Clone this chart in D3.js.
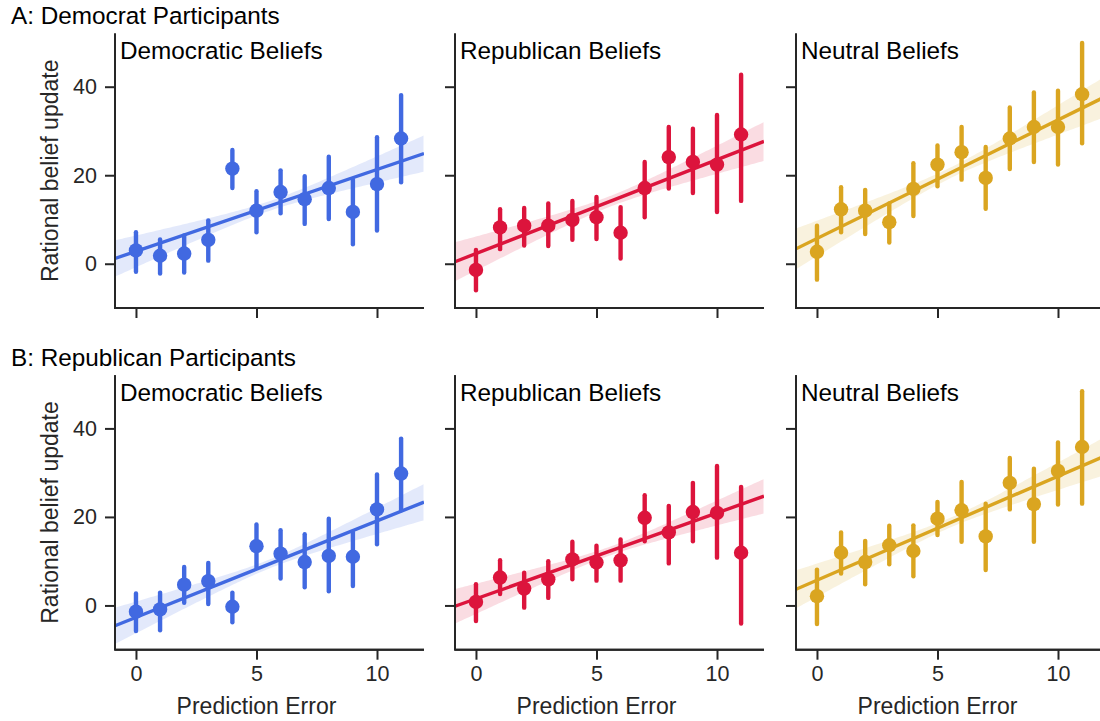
<!DOCTYPE html>
<html>
<head>
<meta charset="utf-8">
<script src="https://cdn.jsdelivr.net/npm/d3@7"></script>
<style>
  html, body { margin: 0; padding: 0; background: #fff; }
  svg { display: block; font-family: "Liberation Sans", Arial, Helvetica, sans-serif; }
</style>
</head>
<body>
<svg id="chart" width="1100" height="721"></svg>
<script>
// ---------- Data ----------
const predictionError = [0, 1, 2, 3, 4, 5, 6, 7, 8, 9, 10, 11];
const rowTitles = ["A: Democrat Participants", "B: Republican Participants"];
const panelTitles = ["Democratic Beliefs", "Republican Beliefs", "Neutral Beliefs"];
const colors = ["#4169E1", "#DC143C", "#DAA520"];
const xTicks = [0, 5, 10];
const yTicks = [0, 20, 40];
const xLabel = "Prediction Error";
const yLabel = "Rational belief update";

// Row A (Democrat participants)
const demDemMean = [3.0, 1.8, 2.3, 5.4, 21.5, 12.0, 16.2, 14.6, 17.1, 11.7, 18.0, 28.3];
const demDemLow  = [-1.8, -2.2, -2.0, 0.7, 17.1, 7.1, 11.4, 9.0, 10.1, 4.4, 7.5, 18.4];
const demDemHigh = [7.1, 5.5, 6.4, 9.8, 25.7, 16.4, 21.1, 19.8, 24.2, 19.0, 28.6, 38.1];

const demRepMean = [-1.4, 8.2, 8.6, 8.6, 9.9, 10.5, 7.0, 17.1, 24.1, 23.0, 22.4, 29.2];
const demRepLow  = [-6.0, 3.3, 4.1, 4.0, 5.4, 5.6, 1.2, 10.5, 17.0, 16.0, 11.7, 14.2];
const demRepHigh = [3.1, 12.3, 12.6, 13.6, 14.2, 15.1, 12.8, 23.0, 30.9, 30.5, 33.6, 42.7];

const demNeuMean = [2.7, 12.3, 12.0, 9.4, 16.9, 22.4, 25.2, 19.4, 28.3, 30.9, 30.9, 38.3];
const demNeuLow  = [-3.6, 7.1, 6.7, 4.8, 10.8, 17.5, 19.0, 12.4, 21.4, 23.0, 22.4, 27.2];
const demNeuHigh = [8.6, 17.3, 16.7, 13.6, 22.7, 26.7, 30.9, 26.4, 35.3, 38.7, 39.1, 49.9];

// Row B (Republican participants)
const repDemMean = [-1.4, -0.9, 4.7, 5.5, -0.3, 13.4, 11.7, 9.8, 11.2, 11.0, 21.7, 29.8];
const repDemLow  = [-5.8, -5.6, 0.6, 0.3, -3.8, 8.6, 6.1, 4.1, 3.2, 4.4, 13.8, 21.5];
const repDemHigh = [2.7, 2.9, 8.7, 9.6, 2.9, 18.3, 17.0, 16.1, 19.6, 16.6, 29.6, 37.7];

const repRepMean = [0.8, 6.3, 3.8, 5.9, 10.4, 9.7, 10.2, 19.8, 16.5, 21.1, 20.9, 11.9];
const repRepLow  = [-3.5, 2.6, -0.5, 1.7, 5.9, 5.6, 5.6, 14.5, 9.5, 14.5, 10.8, -4.1];
const repRepHigh = [4.8, 10.2, 7.4, 10.0, 14.4, 13.5, 14.9, 24.9, 22.5, 27.7, 31.5, 26.8];

const repNeuMean = [2.1, 11.9, 9.8, 13.6, 12.3, 19.6, 21.5, 15.6, 27.7, 22.9, 30.4, 35.8];
const repNeuLow  = [-4.2, 7.2, 4.8, 9.3, 6.6, 15.9, 14.4, 8.0, 21.7, 14.4, 22.8, 23.0];
const repNeuHigh = [8.1, 16.5, 14.6, 18.0, 18.1, 23.4, 27.9, 23.0, 33.3, 30.9, 36.8, 48.4];

// Regression fits (intercept, slope) and CI half-widths (at centre, at axis ends)
const fitIntercept = [[2.8, 2.3, 5.7], [-2.7, 1.5, 5.7]];
const fitSlope     = [[1.85, 2.12, 2.68], [2.18, 1.94, 2.35]];
const ciCentre     = [[1.1, 1.2, 1.2], [1.0, 1.0, 1.1]];
const ciEdge       = [[4.1, 4.4, 4.6], [4.1, 3.9, 4.3]];

const panels = [
  [ {mean: demDemMean, low: demDemLow, high: demDemHigh},
    {mean: demRepMean, low: demRepLow, high: demRepHigh},
    {mean: demNeuMean, low: demNeuLow, high: demNeuHigh} ],
  [ {mean: repDemMean, low: repDemLow, high: repDemHigh},
    {mean: repRepMean, low: repRepLow, high: repRepHigh},
    {mean: repNeuMean, low: repNeuLow, high: repNeuHigh} ]
];

// ---------- Layout ----------
const svg = d3.select("#chart");
const colLeft = [115, 455, 796];
const rowTop = [33.6, 375.3];
const pw = 309, ph = 274.4;
const xDomain = [-0.87, 11.95];
const yDomain = [-10, 52];
const axisColor = "#262626";
const textColor = "#262626";

const x = d3.scaleLinear().domain(xDomain).range([0, pw]);
const y = d3.scaleLinear().domain(yDomain).range([ph, 0]);

// Row titles
rowTitles.forEach((t, r) => {
  svg.append("text")
    .attr("x", 11).attr("y", r === 0 ? 24 : 366)
    .attr("font-size", 24.3).attr("fill", "#000")
    .text(t);
});

panels.forEach((row, r) => {
  row.forEach((p, c) => {
    const g = svg.append("g").attr("transform", `translate(${colLeft[c]},${rowTop[r]})`);
    const color = colors[c];
    const clipId = `clip-${r}-${c}`;
    g.append("clipPath").attr("id", clipId)
      .append("rect").attr("x", 0).attr("y", 0).attr("width", pw).attr("height", ph);

    const plot = g.append("g").attr("clip-path", `url(#${clipId})`);

    // regression band + line
    const b0 = fitIntercept[r][c], b1 = fitSlope[r][c];
    const xc = (xDomain[0] + xDomain[1]) / 2;
    const halfSpan = (xDomain[1] - xDomain[0]) / 2;
    const a = ciCentre[r][c], e = ciEdge[r][c];
    const k = Math.sqrt(Math.max(e * e - a * a, 0)) / halfSpan;
    const grid = d3.range(xDomain[0], xDomain[1] + 0.001, 0.1);
    const half = xv => Math.sqrt(a * a + k * k * (xv - xc) * (xv - xc));
    plot.append("path")
      .datum(grid)
      .attr("d", d3.area()
        .x(d => x(d))
        .y0(d => y(b0 + b1 * d - half(d)))
        .y1(d => y(b0 + b1 * d + half(d))))
      .attr("fill", color).attr("fill-opacity", 0.15);
    plot.append("line")
      .attr("x1", x(xDomain[0])).attr("x2", x(xDomain[1]))
      .attr("y1", y(b0 + b1 * xDomain[0])).attr("y2", y(b0 + b1 * xDomain[1]))
      .attr("stroke", color).attr("stroke-width", 3.4);

    // error bars
    plot.selectAll("line.err").data(predictionError).enter().append("line")
      .attr("class", "err")
      .attr("x1", d => x(d)).attr("x2", d => x(d))
      .attr("y1", (d, i) => y(p.low[i])).attr("y2", (d, i) => y(p.high[i]))
      .attr("stroke", color).attr("stroke-width", 4.4).attr("stroke-linecap", "round");
    // points
    plot.selectAll("circle").data(predictionError).enter().append("circle")
      .attr("cx", d => x(d)).attr("cy", (d, i) => y(p.mean[i]))
      .attr("r", 7.2).attr("fill", color);

    // axes
    const xAxis = d3.axisBottom(x).tickValues(xTicks).tickSize(10).tickPadding(6)
      .tickFormat(r === 1 ? d3.format("d") : () => "");
    const gx = g.append("g").attr("transform", `translate(0,${ph})`).call(xAxis);
    const yAxis = d3.axisLeft(y).tickValues(yTicks).tickSize(10).tickPadding(8)
      .tickFormat(c === 0 ? d3.format("d") : () => "");
    const gy = g.append("g").call(yAxis);
    [gx, gy].forEach(ax => {
      ax.select(".domain").attr("stroke", axisColor).attr("stroke-width", 2).attr("d",
        ax === gx ? `M0,0H${pw}` : `M0,0V${ph}`);
      ax.selectAll(".tick line").attr("stroke", axisColor).attr("stroke-width", 2);
      ax.selectAll(".tick text").attr("fill", textColor).attr("font-size", 21.5)
        .attr("font-family", '"Liberation Sans", Arial, sans-serif');
    });
    // square corner at origin
    g.append("path").attr("d", `M0,0V${ph}H${pw}`).attr("fill", "none")
      .attr("stroke", axisColor).attr("stroke-width", 2).attr("stroke-linejoin", "miter");

    // panel title
    g.append("text").attr("x", 5).attr("y", 25.5)
      .attr("font-size", 24.3).attr("fill", "#000").text(panelTitles[c]);

    // axis labels
    if (c === 0) {
      g.append("text")
        .attr("transform", `translate(${50 - colLeft[c]},${ph / 2}) rotate(-90)`)
        .attr("text-anchor", "middle").attr("dominant-baseline", "central")
        .attr("font-size", 23).attr("fill", textColor).text(yLabel);
    }
    if (r === 1) {
      g.append("text")
        .attr("x", x(5)).attr("y", ph + 64)
        .attr("text-anchor", "middle")
        .attr("font-size", 23).attr("fill", textColor).text(xLabel);
    }
  });
});
</script>
</body>
</html>
